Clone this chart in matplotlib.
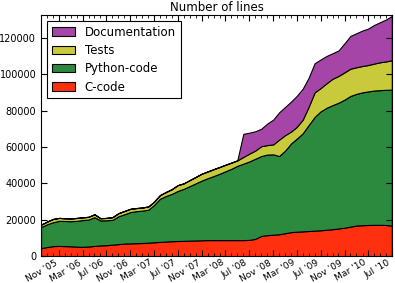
import datetime as dt

import matplotlib
matplotlib.use("Agg")
import matplotlib.pyplot as plt
import matplotlib.dates as mdates
from matplotlib.ticker import MultipleLocator, FormatStrFormatter

# monthly samples, Aug 2005 .. Jul 2010
months = [(2005, m) for m in range(8, 13)] + \
         [(y, m) for y in range(2006, 2010) for m in range(1, 13)] + \
         [(2010, m) for m in range(1, 8)]
dates = [dt.date(y, m, 1) for y, m in months]

c_code = [4400, 5000, 5500, 5600, 5500, 5400, 5200, 5100, 5300, 5600,
          5900, 6000, 6300, 6600, 6900, 7000, 7100, 7200, 7400, 7600,
          7800, 8000, 8200, 8300, 8400, 8500, 8600, 8700, 8800, 8800,
          8800, 8800, 8800, 8800, 8800, 8900, 9500, 11100, 11500, 11800,
          12000, 12600, 13200, 13400, 13600, 13800, 14000, 14200, 14500, 14800,
          15200, 15600, 16200, 16800, 17000, 17100, 17200, 17200, 17100, 16800]
python_code = [11600, 12500, 13100, 13800, 13800, 13800, 14200, 14700, 14800, 15800,
               13700, 13700, 13600, 15300, 16100, 17200, 17600, 17800, 18100, 20400,
               23700, 25000, 26000, 27500, 28600, 30000, 31400, 32800, 34000, 35200,
               36500, 37800, 39200, 40800, 42000, 43100, 44000, 43900, 44300, 44100,
               43000, 45400, 48800, 51100, 53900, 58200, 62500, 65300, 67000, 68200,
               69100, 70400, 71800, 72400, 73000, 73400, 73800, 74000, 74300, 74700]
tests = [1300, 1500, 1800, 1600, 1500, 1500, 1600, 1500, 1500, 1600,
         1200, 1300, 1500, 1700, 1800, 1800, 1700, 1700, 1800, 1800,
         2000, 2200, 2600, 3200, 3000, 3300, 3500, 3800, 3700, 3800,
         3700, 3600, 3400, 3000, 3700, 4300, 4500, 5400, 5200, 5500,
         9000, 8500, 6500, 6500, 7500, 10000, 13500, 12800, 13500, 14500,
         14700, 15000, 15000, 14600, 14500, 14500, 14800, 15300, 15600, 16100]
documentation = [0, 0, 0, 0, 0, 0, 0, 0, 0, 0,
                 0, 0, 0, 0, 0, 0, 0, 0, 0, 0,
                 0, 0, 0, 0, 0, 0, 0, 0, 0, 0,
                 0, 0, 0, 0, 12700, 11500, 10600, 9600, 11800, 13600,
                 15000, 15500, 16500, 17000, 17000, 16000, 16000, 15700, 15000, 14000,
                 14000, 16000, 18000, 18700, 19500, 20000, 21200, 22000, 23000, 24400]

labels = ["C-code", "Python-code", "Tests", "Documentation"]
colors = ["#ff3010", "#2b8a3e", "#c9c93c", "#a545a8"]

fig = plt.figure(figsize=(3.95, 2.83), dpi=100)
ax = fig.add_axes([0.104, 0.095, 0.888, 0.852])

polys = ax.stackplot(dates, c_code, python_code, tests, documentation,
                     colors=colors, labels=labels,
                     edgecolor="black", linewidth=0.8)

ax.set_xlim(dates[0], dates[-1])
ax.set_ylim(0, 132500)
ax.set_title("Number of lines", fontsize=8.5, pad=3)

ax.xaxis.set_major_locator(mdates.MonthLocator(bymonth=[3, 7, 11]))
ax.xaxis.set_major_formatter(mdates.DateFormatter("%b '%y"))
ax.xaxis.set_minor_locator(mdates.MonthLocator())
ax.yaxis.set_major_locator(MultipleLocator(20000))
ax.yaxis.set_major_formatter(FormatStrFormatter("%d"))

ax.tick_params(which="both", direction="in", top=True, right=True, labelsize=7)
ax.tick_params(which="major", length=4)
ax.tick_params(which="minor", length=2)
ax.tick_params(axis="x", labelsize=6.6, pad=1.5)
for lbl in ax.get_xticklabels():
    lbl.set_rotation(30)
    lbl.set_ha("right")

leg = ax.legend(polys[::-1], labels[::-1], loc="upper left", fontsize=8.5,
                fancybox=False, framealpha=1, edgecolor="black",
                handlelength=2.0, labelspacing=0.45, borderpad=0.4)
leg.get_frame().set_linewidth(0.8)

fig.savefig("out.png", dpi=100)
